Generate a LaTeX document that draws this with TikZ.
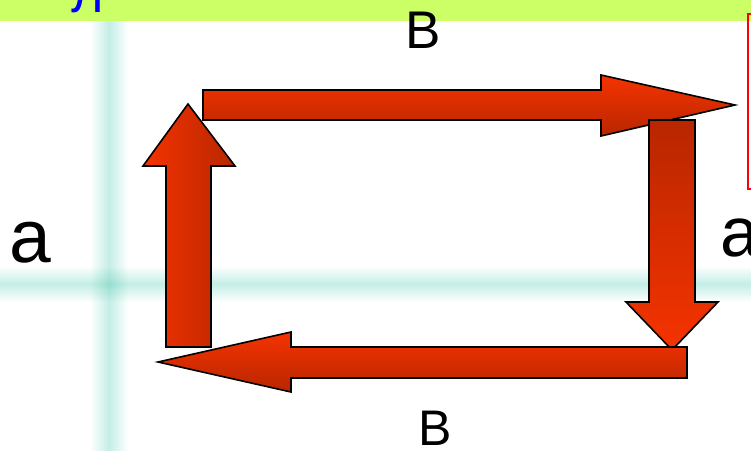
\documentclass[tikz,border=0pt]{standalone}
\usepackage{fontspec}
\setmainfont{Liberation Sans}
\usepackage{tikz}

\definecolor{bandgreen}{HTML}{CCFF66}
\definecolor{gridcyan}{HTML}{C4EEE6}
\definecolor{redlight}{HTML}{F53300}
\definecolor{reddark}{HTML}{B82600}

\begin{document}
\begin{tikzpicture}[x=1pt,y=-1pt,
    blk/.style={draw=black,line width=1.6pt,line join=miter},
    lbl/.style={anchor=base,inner sep=0pt,text=black}]
    \useasboundingbox (0,0) rectangle (751,450);
    \fill[white] (0,0) rectangle (751,450);

    % faint grid bands behind
    \shade[blend mode=multiply,left color=white,right color=white,middle color=gridcyan] (90,20) rectangle (128,450);
    \shade[blend mode=multiply,top color=white,bottom color=white,middle color=gridcyan] (0,266) rectangle (751,302);

    % title band
    \fill[bandgreen] (0,0) rectangle (751,20.5);
    \node[anchor=base,inner sep=0pt,text=blue,font=\fontsize{50}{56}\selectfont] (ttl) at (87.5,12) {Л};

    % frame at the right edge
    \draw[red,line width=1.2pt] (748,14) rectangle (770,189);

    % the four block arrows
    \draw[blk,left color=redlight,right color=reddark]
        (166,347) -- (166,166) -- (143,166) -- (188,104) -- (235,166) -- (211,166) -- (211,347) -- cycle;
    \draw[blk,top color=redlight,bottom color=reddark]
        (203,90) -- (601,90) -- (601,75) -- (735,105) -- (601,136) -- (601,120) -- (203,120) -- cycle;
    \draw[blk,top color=reddark,bottom color=redlight]
        (649,120) -- (695,120) -- (695,302) -- (718,302) -- (672,350) -- (626,302) -- (649,302) -- cycle;
    \draw[blk,top color=redlight,bottom color=reddark]
        (687,347) -- (687,378) -- (291,378) -- (291,392) -- (158,362) -- (291,332) -- (291,347) -- cycle;

    % side labels
    \node[lbl,font=\fontsize{53}{60}\selectfont] (vt) at (423.5,48) {В};
    \node[lbl,font=\fontsize{50}{56}\selectfont] (vb) at (435,445) {В};
    \node[lbl,font=\fontsize{75}{80}\selectfont] (al) at (30.5,262) {а};
    \node[lbl,font=\fontsize{70}{76}\selectfont] (ar) at (740,256) {а};
\end{tikzpicture}
\end{document}
